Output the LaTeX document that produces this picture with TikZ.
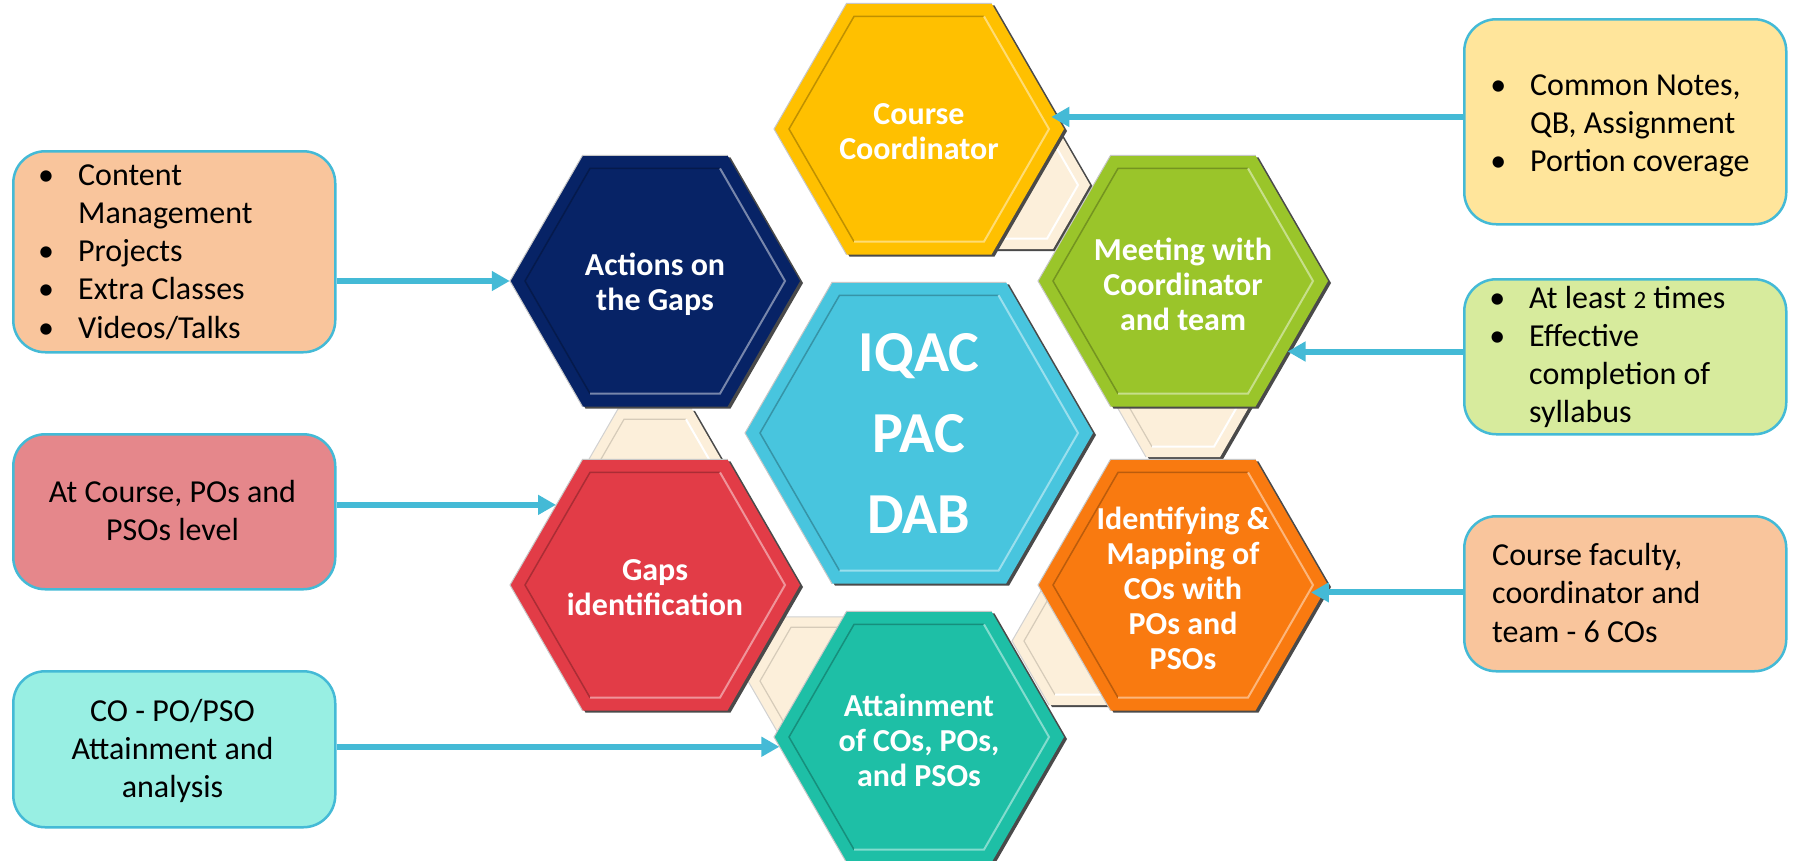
\documentclass[tikz,border=0pt]{standalone}
\usepackage{fontspec}
\setmainfont{Carlito}
\usetikzlibrary{shapes.geometric,arrows.meta,calc}

\definecolor{linecyan}{HTML}{44BAD6}
\definecolor{cYellow}{HTML}{FFC000}
\definecolor{cNavy}{HTML}{072366}
\definecolor{cGreen}{HTML}{9AC52A}
\definecolor{cBlue}{HTML}{48C5DE}
\definecolor{cRed}{HTML}{E23C47}
\definecolor{cOrange}{HTML}{F97A10}
\definecolor{cTeal}{HTML}{1EBFA6}
\definecolor{cBeige}{HTML}{FCEFDA}
\definecolor{bYellow}{HTML}{FFE59B}
\definecolor{bGreen}{HTML}{D7EB9D}
\definecolor{bPeach}{HTML}{F9C59C}
\definecolor{bPink}{HTML}{E5878B}
\definecolor{bAqua}{HTML}{98EFE3}
\definecolor{shadowgrey}{HTML}{4A4A4A}

\newcommand\mybul{\makebox[28pt][c]{•}\hspace{18pt}}
\newcommand\myind{\hspace*{46pt}}
\newcommand\oldtwo{{\fontsize{25}{38}\selectfont 2}}

\tikzset{
  x=1pt, y=-1pt,
  hexp/.style={insert path={(0:#1) -- (60:#1) -- (120:#1) -- (180:#1) -- (240:#1) -- (300:#1) -- cycle}},
  hexnode/.style={regular polygon, regular polygon sides=6, minimum size=290pt, inner sep=0pt, draw=none},
  bighex/.style={hexnode, minimum size=348pt},
  hextext/.style={text=white, font=\fontsize{32}{35}\selectfont\bfseries, align=center, inner sep=0pt, yshift=-3pt},
  bigtext/.style={text=white, font=\fontsize{58}{81}\selectfont\bfseries, align=center, inner sep=0pt},
  infobox/.style={draw=linecyan, line width=2.5pt, rounded corners=32pt, inner sep=0pt, minimum width=322pt},
  boxtext/.style={text=black, font=\fontsize{32}{38}\selectfont, inner sep=0pt},
  arr/.style={draw=linecyan, line width=6pt, -{Triangle[length=18pt,width=19pt]}},
}

% coloured bevelled hexagon
\newcommand\hexcell[3]{%
  \begin{scope}[shift={(#1)}]
    \pgfmathsetmacro\ri{#2-15}
    \fill[shadowgrey, shift={(3,2)}, hexp=#2];
    \fill[#3, hexp=#2];
    \draw[black!22, line width=1pt] (120:#2) -- (180:#2) -- (240:#2) -- (300:#2);
    \draw[#3!75!black, line width=1.5pt] (120:\ri) -- (180:\ri) -- (240:\ri) -- (300:\ri);
    \draw[#3!55!white, line width=2pt] (300:\ri) -- (0:\ri) -- (60:\ri) -- (120:\ri);
  \end{scope}}

% beige connector hexagon
\newcommand\beigecell[1]{%
  \begin{scope}[shift={(#1)}]
    \fill[shadowgrey, shift={(3,2)}, hexp=74];
    \fill[cBeige, hexp=74];
    \draw[black!18, line width=1pt] (120:74) -- (180:74) -- (240:74) -- (300:74);
    \draw[cBeige!85!black, line width=1.2pt] (120:62) -- (180:62) -- (240:62) -- (300:62);
    \draw[white, line width=2pt] (300:62) -- (0:62) -- (60:62) -- (120:62);
  \end{scope}}

\begin{document}
\begin{tikzpicture}
\fill[white] (0,0) rectangle (1793,860);
\useasboundingbox (0,0) rectangle (1793,860);

% connector hexagons behind
\beigecell{1016,185}
\beigecell{1183,393}
\beigecell{1086,641}
\beigecell{822,681}
\beigecell{655,473}

% coloured hexagons
\hexcell{919,129}{145}{cYellow}
\hexcell{1183,281}{145}{cGreen}
\hexcell{1183,585}{145}{cOrange}
\hexcell{919,737}{145}{cTeal}
\hexcell{655,585}{145}{cRed}
\hexcell{655,281}{145}{cNavy}
\hexcell{919,433}{174}{cBlue}

\node[hexnode] (cc) at (919,129) {};
\node[hexnode] (meet) at (1183,281) {};
\node[hexnode] (map) at (1183,585) {};
\node[hexnode] (att) at (919,737) {};
\node[hexnode] (gap) at (655,585) {};
\node[hexnode] (act) at (655,281) {};
\node[bighex] (iqac) at (919,433) {};

\node[hextext] (cct) at (cc) {Course\\Coordinator};
\node[hextext] (meett) at (meet) {Meeting with\\Coordinator\\and team};
\node[hextext] (mapt) at (map) {Identifying \&\\Mapping of\\COs with\\POs and\\PSOs};
\node[hextext] (attt) at (att) {Attainment\\of COs, POs,\\and PSOs};
\node[hextext] (gapt) at (gap) {Gaps\\identification};
\node[hextext] (actt) at (act) {Actions on\\the Gaps};
\node[bigtext] (iqact) at (iqac) {IQAC\\PAC\\DAB};

% info boxes
\node[infobox, fill=bYellow, minimum height=205pt, anchor=north west] (r1) at (1463,18) {};
\node[infobox, fill=bGreen, minimum height=155pt, anchor=north west] (r2) at (1463,278) {};
\node[infobox, fill=bPeach, minimum height=155pt, anchor=north west] (r3) at (1463,515) {};
\node[infobox, fill=bPeach, minimum height=201pt, anchor=north west] (l1) at (12,150) {};
\node[infobox, fill=bPink, minimum height=155pt, anchor=north west] (l2) at (12,433) {};
\node[infobox, fill=bAqua, minimum height=156pt, anchor=north west] (l3) at (12,670) {};

\node[boxtext, anchor=base west] (r1t) at (1484,95)
  {\parbox[t]{300pt}{\mybul Common Notes,\\\myind QB, Assignment\\\mybul Portion coverage}};
\node[boxtext, anchor=base west] (r2t) at (1483,308)
  {\parbox[t]{300pt}{\mybul At least \oldtwo{} times\\\mybul Effective\\\myind completion of\\\myind syllabus}};
\node[boxtext, anchor=base west] (r3t) at (1492,565)
  {\parbox[t]{290pt}{\baselineskip=38.5pt Course faculty,\\coordinator and\\team - 6 COs}};
\node[boxtext, anchor=base west] (l1t) at (32,185)
  {\parbox[t]{300pt}{\baselineskip=38.3pt \mybul Content\\\myind Management\\\mybul Projects\\\mybul Extra Classes\\\mybul Videos/Talks}};
\node[boxtext, anchor=base] (l2t) at (172.5,502)
  {\parbox[t]{310pt}{\centering At Course, POs and\\PSOs level}};
\node[boxtext, anchor=base] (l3t) at (172.5,721)
  {\parbox[t]{310pt}{\centering CO - PO/PSO\\Attainment and\\analysis}};

% arrows
\draw[arr, shorten >=-6pt] (r1.west |- cc.5) -- (cc.5);
\draw[arr] (r2.west |- meet.-34.5) -- (meet.-34.5);
\draw[arr, shorten >=-13pt] (r3.west |- map.-3.7) -- (map.-3.7);
\draw[arr] (l1.east |- act.180) -- (act.180);
\draw[arr] (l2.east |- gap.141.5) -- (gap.141.5);
\draw[arr] (l3.east |- att.184.5) -- (att.184.5);
\end{tikzpicture}
\end{document}
